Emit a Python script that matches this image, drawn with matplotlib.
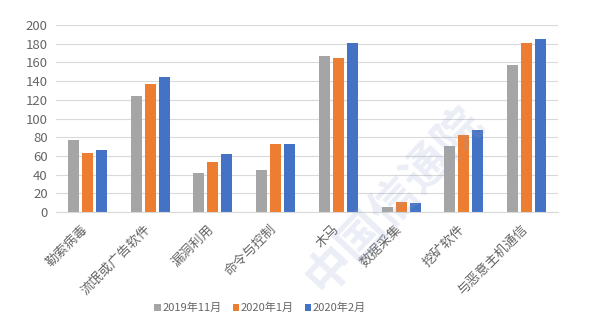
import numpy as np
import matplotlib
matplotlib.use("Agg")
import matplotlib.pyplot as plt
from matplotlib.transforms import ScaledTranslation

plt.rcParams['font.family'] = ['Noto Sans CJK SC', 'DejaVu Sans']

categories = ['勒索病毒', '流氓或广告软件', '漏洞利用', '命令与控制',
              '木马', '数据采集', '挖矿软件', '与恶意主机通信']
series_names = ['2019年11月', '2020年1月', '2020年2月']
nov_2019 = [77, 124, 42, 45, 167, 5, 71, 157]
jan_2020 = [63, 137, 54, 73, 165, 11, 82, 181]
feb_2020 = [66, 144, 62, 73, 181, 10, 88, 185]
colors = ['#A5A5A5', '#ED7D31', '#4472C4']

fig = plt.figure(figsize=(5.96, 3.29), dpi=100)
ax = fig.add_axes([56/596, 1 - 212/329, (558 - 56)/596, (212 - 25)/329])

x = np.arange(len(categories))
width = 0.175
step = 0.223
for i, (vals, name, c) in enumerate(zip([nov_2019, jan_2020, feb_2020], series_names, colors)):
    ax.bar(x + (i - 1) * step, vals, width, color=c, label=name, zorder=2)

ax.set_xlim(-0.5, len(categories) - 0.5)
ax.set_ylim(0, 200)
ax.set_yticks(range(0, 201, 20))
ax.grid(axis='y', color='#D9D9D9', linewidth=0.8, zorder=0)
for s in ['top', 'right', 'left']:
    ax.spines[s].set_visible(False)
ax.spines['bottom'].set_color('#D9D9D9')
ax.tick_params(axis='both', length=0, colors='#666666', labelsize=9.5)
ax.tick_params(axis='y', pad=6)
ax.set_xticks(x)
ax.set_xticklabels(categories, rotation=45, ha='right', rotation_mode='anchor')
ax.tick_params(axis='x', pad=6)
shift = ScaledTranslation(-6/100, -2/100, fig.dpi_scale_trans)
for lbl in ax.get_xticklabels():
    lbl.set_transform(lbl.get_transform() + shift)

leg = fig.legend(loc='center', bbox_to_anchor=(260/596, 1 - 308/329), ncol=3,
                 frameon=False, fontsize=8, handlelength=0.55, handleheight=0.55,
                 handletextpad=0.15, columnspacing=1.0, labelcolor='#666666')

# faint diagonal watermark
fig.text(395/596, 1 - 200/329, '中国信通院', rotation=47, ha='center', va='center',
         fontsize=34, fontweight='bold', color='#8fa2cc', alpha=0.18, zorder=10)

fig.savefig('out.png', dpi=100)
